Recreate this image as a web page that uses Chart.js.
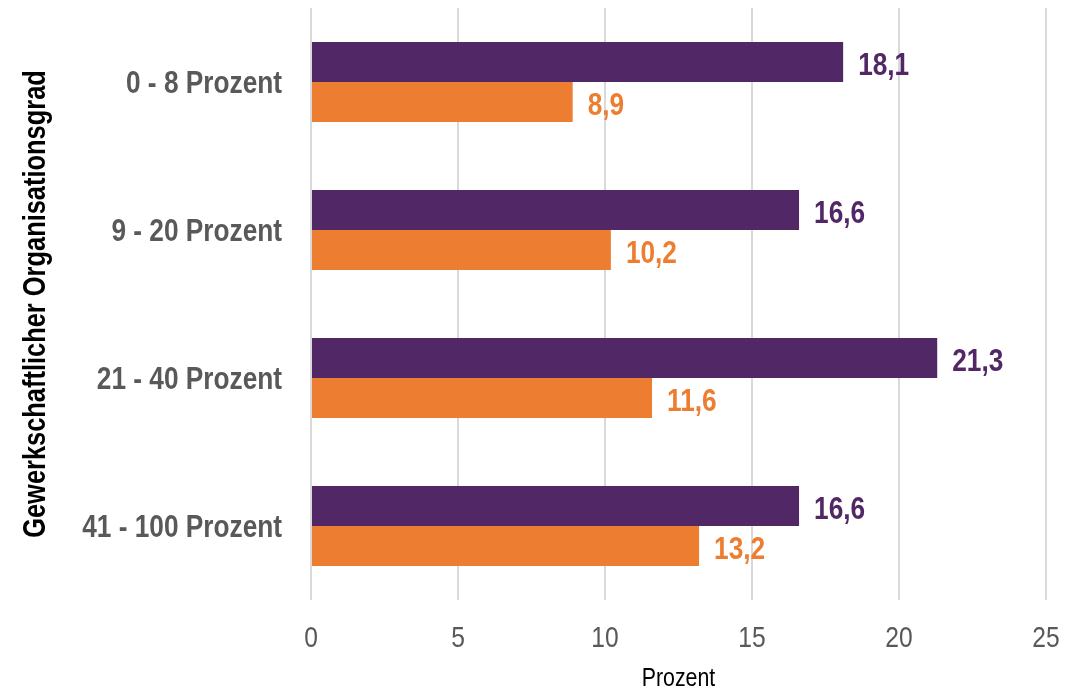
<!DOCTYPE html>
<html>
<head>
<meta charset="utf-8">
<script src="https://cdn.jsdelivr.net/npm/chart.js@4"></script>
<style>
html,body{margin:0;padding:0;background:#fff;}
#wrap{width:1082px;height:694px;position:relative;}
</style>
</head>
<body>
<div id="wrap"><canvas id="c" width="1082" height="694"></canvas></div>
<script>
const categories = ["0 - 8 Prozent", "9 - 20 Prozent", "21 - 40 Prozent", "41 - 100 Prozent"];
const seriesPurple = [18.1, 16.6, 21.3, 16.6];
const seriesOrange = [8.9, 10.2, 11.6, 13.2];
const xTicks = [0, 5, 10, 15, 20, 25];

const FONT = "'Liberation Sans', Arial, sans-serif";
const SX = 0.82; // horizontal squeeze to imitate a narrow typeface
const PURPLE = "#522766";
const ORANGE = "#ED7D31";

const canvas = document.getElementById('c');
const ctx2d = canvas.getContext('2d');
const origFillText = ctx2d.fillText.bind(ctx2d);
const origMeasure = ctx2d.measureText.bind(ctx2d);
ctx2d.fillText = function (t, x, y, mw) {
  this.save();
  this.translate(x, y);
  this.scale(SX, 1);
  if (mw !== undefined) origFillText(t, 0, 0, mw / SX); else origFillText(t, 0, 0);
  this.restore();
};
ctx2d.measureText = function (t) {
  const m = origMeasure(t);
  return { width: m.width * SX, actualBoundingBoxAscent: m.actualBoundingBoxAscent, actualBoundingBoxDescent: m.actualBoundingBoxDescent };
};

const valueLabels = {
  id: 'valueLabels',
  afterDatasetsDraw(chart) {
    const ctx = chart.ctx;
    ctx.save();
    ctx.font = "bold 32px " + FONT;
    ctx.textBaseline = 'middle';
    ctx.textAlign = 'left';
    chart.data.datasets.forEach((ds, i) => {
      const meta = chart.getDatasetMeta(i);
      meta.data.forEach((bar, j) => {
        ctx.fillStyle = ds.backgroundColor;
        ctx.fillText(String(ds.data[j]).replace('.', ','), bar.x + 15, bar.y + 4);
      });
    });
    ctx.restore();
  }
};

new Chart(canvas, {
  type: 'bar',
  data: {
    labels: categories,
    datasets: [
      { label: 'Reihe 1', data: seriesPurple, backgroundColor: PURPLE, borderWidth: 0 },
      { label: 'Reihe 2', data: seriesOrange, backgroundColor: ORANGE, borderWidth: 0 }
    ]
  },
  options: {
    indexAxis: 'y',
    responsive: false,
    animation: false,
    layout: { padding: { top: 8, right: 36, left: 0, bottom: 0 } },
    plugins: { legend: { display: false }, tooltip: { enabled: false } },
    datasets: { bar: { categoryPercentage: 0.54, barPercentage: 1.0 } },
    scales: {
      x: {
        min: 0, max: 25,
        afterBuildTicks(scale) { scale.ticks = xTicks.map(v => ({ value: v })); },
        afterFit(scale) { scale.height = 94; scale.paddingLeft = 0; scale.paddingRight = 0; },
        grid: { color: '#d9d9d9', lineWidth: 2, drawTicks: false },
        border: { display: false },
        ticks: { color: '#595959', font: { family: FONT, size: 30 }, padding: 21 },
        title: { display: true, text: 'Prozent', color: '#000', font: { family: FONT, size: 26 }, padding: { top: 0, bottom: 0 } }
      },
      y: {
        afterFit(scale) { scale.width = 311; scale.paddingTop = 0; scale.paddingBottom = 0; },
        grid: { display: false, drawTicks: false },
        border: { display: false },
        ticks: { color: '#595959', font: { family: FONT, size: 32, weight: 'bold' }, padding: 29, labelOffset: 2 },
        title: { display: true, text: 'Gewerkschaftlicher Organisationsgrad', color: '#000', font: { family: FONT, size: 31, weight: 'bold' }, padding: { top: 18, bottom: 0 } }
      }
    }
  },
  plugins: [valueLabels]
});
</script>
</body>
</html>
